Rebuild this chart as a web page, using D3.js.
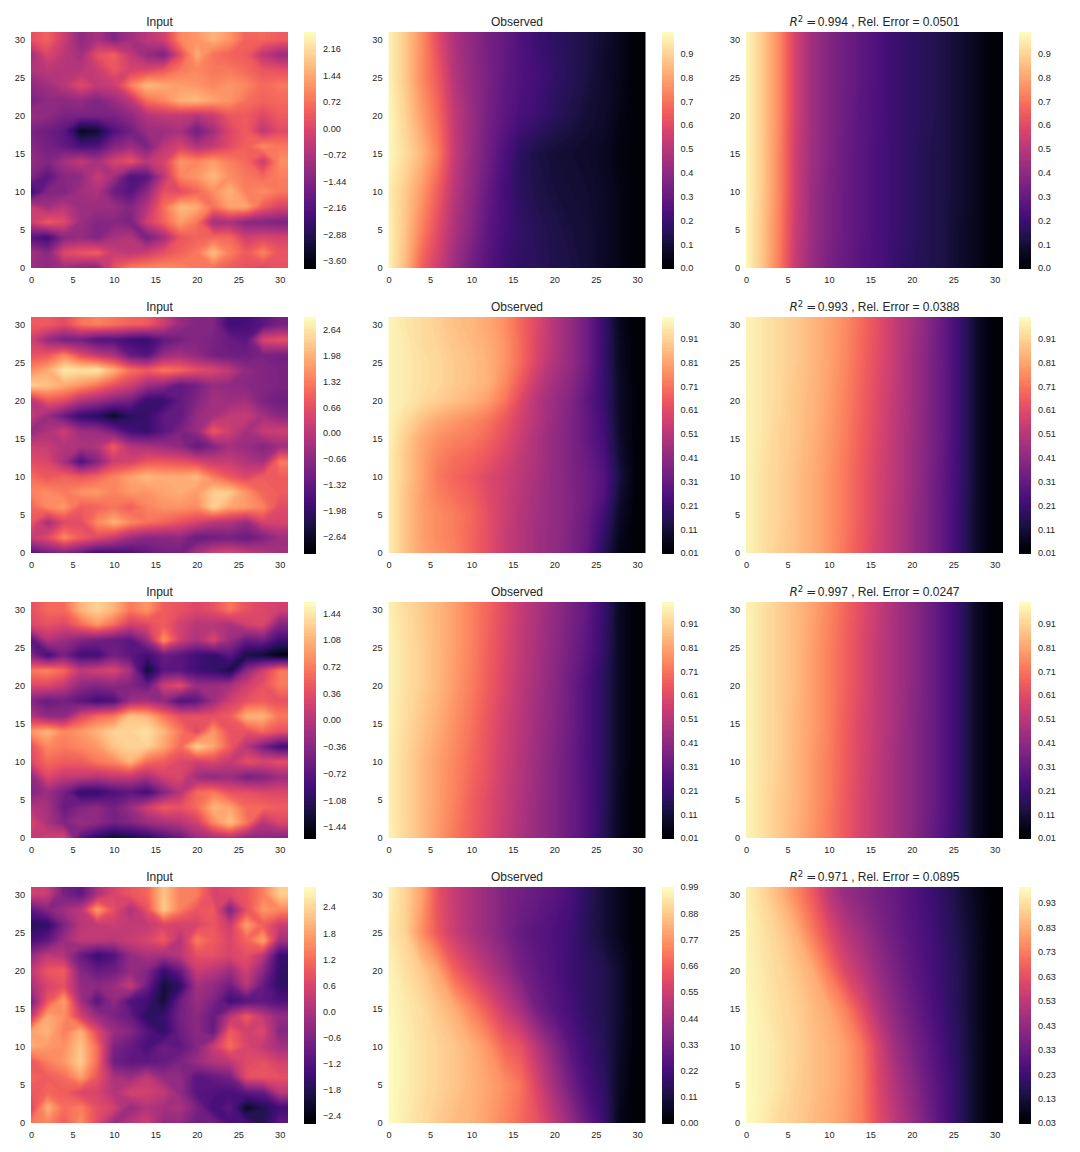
<!DOCTYPE html>
<html>
<head>
<meta charset="utf-8">
<script src="https://cdn.jsdelivr.net/npm/d3@7"></script>
<style>
  body { margin: 0; background: #fff; }
  text { font-family: "Liberation Sans", Arial, sans-serif; fill: #262626; }
  .tick text { font-size: 9.2px; }
  .title { font-size: 12px; }
</style>
</head>
<body>
<div id="chart"></div>
<script>
// values, rows run from y=30 down to y=0, columns x=0,2,...,30
const input1 = [
  [.2,.5,-.3,-1.2,-.8,-1.4,-.9,-.5,-.2,1,1.2,1.6,1.2,.5,.6,.4],
  [-.9,0,-.5,-.9,.2,.5,-.4,-1.1,-1.5,.1,1.5,.7,.5,.4,-.5,-1],
  [-.7,-.5,-.6,-.6,-.3,.3,-.1,0,.3,.8,1,.8,.8,.6,.3,.2],
  [-1.2,-.9,-.5,.1,-.4,-.3,.9,1.7,1.5,1.3,1.2,1,1.2,1,.6,.8],
  [-1.5,-1.2,-1.2,-1.1,-1.4,-1,-.5,.7,1,1.6,1.7,1.4,1.2,.7,.5,.6],
  [-1,-1.2,-1.5,-1.5,-1.5,-1.5,-1.2,-.6,-.4,-.4,-.6,-.3,.3,.4,0,.4],
  [-1.5,-1.7,-2,-3.4,-3.2,-2.2,-1.7,-1,-1,-.8,-1.7,-.9,0,.4,-.5,.1],
  [-1.3,-1.6,-1.9,-2.3,-2.2,-1.4,-1,-1.5,-.5,-.1,-.7,-.4,.1,.5,1.1,.8],
  [-1.1,-1.4,-.8,-.4,-.8,-.1,.3,-.5,-.1,1.2,1,1.3,.9,.6,-.3,1.1],
  [-1.4,-2,-1.3,-1.2,-.3,-.9,-2.2,-2,-.5,1,1.2,1.7,1.1,.8,.6,.9],
  [-2.5,-1.4,-1.4,-.9,-.7,-1.7,-2.1,-1.2,.2,.1,.5,1.1,1.6,.9,1.1,.8],
  [-.3,-.9,-.5,-1,-1,-1,-1.4,-.6,.7,1.7,1.5,.7,1.4,1.4,.4,-.1],
  [-.2,.4,.1,-1,-1.4,-1.3,-1.5,-.2,.5,1.3,.8,-.9,-.8,-1.3,-1.4,-1.5],
  [-2.1,-2.4,-1.3,-1.1,-1.4,-.8,-.6,-1.6,-.9,.3,.5,.6,.6,-.2,0,-.1],
  [-.8,-1.3,.1,.3,.5,-.3,-.5,-.2,.2,.5,.8,1.8,.9,.4,1,.3],
  [-1,-1.2,-.9,-1.2,-1.3,.3,.9,1,1.1,1,.8,.7,.4,.2,0,.2]
];
const input2 = [
  [.9,.9,.6,1.2,1.4,1.2,1,.9,.3,-.5,-.8,-.8,-1.8,-1.7,-1.4,-1],
  [.3,-.5,-1,-1,-1.5,-1.5,-1.8,-1.9,-1.3,-1,-.8,-.9,-1.2,-1.4,.5,.7],
  [.7,.8,1.4,.6,.1,-.2,-1.2,-1.5,-.5,-.3,-.6,-1,-1.1,-1.1,-.9,-1],
  [1.5,1.9,2.7,2.6,2.7,2,1.2,.9,1.3,1.1,.7,.5,.1,-.6,-.8,-.9],
  [2.4,2.2,1.9,1.6,1.2,.7,.3,-.4,-.7,-1.3,-1,-.5,-.6,-.7,-.8,-.9],
  [0,.8,.6,-.1,-.4,-.8,-1,-1.9,-1.9,-1.3,-.8,-.3,-.4,-.3,-.9,-1.1],
  [.2,-.5,-1.2,-1.9,-2.1,-2.6,-2.1,-1.9,-1.3,-1.3,-.5,-.3,.1,.2,-.3,-.7],
  [-.5,-.2,.3,-.4,-.5,-1,-1.7,-1.9,-1.4,-.9,-.5,.9,.3,-.3,.2,.3],
  [.3,.2,-.1,-.2,-.1,.9,-.1,-.2,-.4,-.6,-1.3,-.8,-.3,-.5,-.8,-.4],
  [.6,.5,-.3,-1.6,-.8,.3,.4,.8,.8,.7,.5,.2,.2,-.1,-.3,1.3],
  [1.1,.8,1,.8,1,1.4,1.8,2.1,1.9,1.9,2.1,1.3,.8,.5,.9,.9],
  [1.4,1.5,1.3,1.6,1.7,1.4,1.7,1.6,1.8,1.9,1.7,2.3,2.3,1.6,1,.9],
  [1,1.5,1.7,.9,1,1.2,.9,1.4,1.6,1.6,1.5,2.4,1.8,1.7,1.4,.6],
  [.8,-.3,.5,.6,1.5,2,1.5,1.2,1,.7,.4,0,-.1,-.5,.4,.4],
  [.2,.6,1.5,.9,.6,.2,-.4,-.7,-.7,-.6,-1.2,-1.1,-1,-1.2,-.9,-.4],
  [-1.5,-1,-.8,-1.2,-1.8,-1.7,-1.6,-1.3,-1,-1,-.2,.4,.5,.2,0,-.3]
];
const input3 = [
  [.4,.6,.6,1.1,1.3,1.1,.7,.9,.5,.4,.3,.4,.7,.4,.3,.2],
  [.3,.4,.3,.6,.9,.6,.2,.3,.5,.2,0,0,-.1,.2,.3,-.4],
  [-.7,0,-.2,-.4,-.5,-.6,-.7,-.2,.9,.2,-.1,.3,-.2,-.6,-.5,-.9],
  [-.4,-.9,-.5,-.9,-.9,-.5,-.7,-.9,-.6,-.7,-.9,-1,-.7,-1.2,-1.3,-1.5],
  [.7,.8,.6,.1,.2,.3,-.1,-1.3,-.7,-.7,-.9,-1,-1.2,-.3,.2,.7],
  [.3,.3,.1,-.3,-.4,-.3,-.4,-.6,.2,.4,-.2,-.2,-.1,.2,.4,.7],
  [-.4,-.6,-.5,-.7,-.9,-.8,-.2,-.1,-.3,-.8,-.7,-.2,.2,.4,.5,.4],
  [0,-.3,-.3,.3,.6,.7,1.2,1.1,.7,.4,.4,.4,.5,1.1,1.1,.7],
  [.9,1.1,.8,.9,1.1,1.3,1.3,1.4,1.1,.7,.3,.9,.4,.4,.6,.4],
  [.4,.8,.7,.8,.9,1.2,1.3,1.3,1,.6,1.3,1,.5,0,-.5,-.9],
  [.3,.6,.5,.5,.7,.8,1.1,.6,.5,.3,.2,.3,.1,.4,.3,.4],
  [-.3,.3,.1,.1,0,.1,.1,-.1,.2,.3,-.2,-.3,-.2,-.5,-.4,-.2],
  [-.4,-.2,-.5,-1,-1,-.8,-.7,-.9,-.4,0,.6,.7,.4,.4,.3,.3],
  [0,-.1,-.6,-.4,-.3,-.5,-.2,.2,.5,.4,.6,1.1,1,.6,.6,.5],
  [.3,-.1,-.4,-.2,-.3,-.5,-.4,-.2,-.1,0,.2,.8,1.2,.7,0,.3],
  [.1,.2,.3,-.7,-1.1,-1.3,-1.2,-1.1,-.8,-.6,-.2,-.1,0,-.3,-.3,-.4]
];
const input4 = [
  [.5,.4,-.7,-1,0,.6,.9,1.1,2.2,1.4,1.4,.6,.7,.9,1.4,2.3],
  [-1,-.5,-.1,.2,1.8,.8,0,.8,2.3,1.4,.9,1,-.6,.8,1.7,1.5],
  [-1.7,-1.6,-.6,.2,.3,.4,.3,.3,.6,.5,.6,.9,.4,1.8,1,.4],
  [-1.3,-1,-.2,.3,.3,.2,.4,.6,1,.1,1.4,1,.6,1.1,1.9,-.1],
  [-.3,.3,.1,-.9,-1.5,-1.2,-.3,0,-.1,.2,.8,.8,.6,.8,.2,-1.5],
  [.3,.9,1,-.5,-.9,-.8,-.3,-.5,-1.5,-.9,.4,.2,-.2,.5,-.4,-1.6],
  [-.1,.6,.8,-.3,-.4,-.2,.4,-.8,-2,-1.6,-.1,-.3,-.8,.2,-.9,-1.6],
  [-.6,.9,1.8,-.1,-1.1,-.3,-1.2,-1.4,-2,-.8,-.2,-.6,-1.4,-1.1,-1,-1.2],
  [.3,1.9,1.6,.5,-.2,-.6,-.9,-1.7,-1.5,-.7,-.4,-.9,.2,1,.3,-.3],
  [1.8,2,1.4,2,.7,-.2,-.5,-1.1,-1.6,-.8,-.4,-.9,1,.5,.7,-.5],
  [1.9,1.7,1.6,2.2,1.2,-.6,-.9,-1.3,-.8,-1,-.5,.4,1.2,.6,.3,-.1],
  [.9,1.4,1.7,2.3,1.2,-.8,-1,-1,-.9,-.6,-.2,.1,.2,.7,.8,.5],
  [1.1,1,1.2,1.8,.9,0,-.2,.3,-.3,-.3,-1.1,-.9,-.7,.8,.9,.8],
  [.9,1.1,1,.6,.6,.1,.6,.5,.3,-.3,-1.1,-1.2,-1.3,-1,-.9,.2],
  [.6,2,1.2,1.4,.8,.5,-.3,.1,-.1,0,-.6,-1.4,-1,-2.2,-1.8,-1.4],
  [1.3,1.5,1,1.6,.7,-.2,.2,.5,-.3,-.3,-.8,-.7,-1.3,-1.3,-1.8,-1]
];

// the smooth fields are read every 5 units in y (observed2 every 2.5)
const observed1 = [
  [.97,.88,.76,.6,.47,.4,.34,.3,.24,.2,.17,.15,.12,.09,.05,.01],
  [.97,.88,.75,.64,.49,.41,.35,.29,.25,.22,.18,.15,.12,.08,.05,.01],
  [.98,.9,.79,.68,.52,.43,.34,.28,.23,.2,.16,.13,.1,.08,.04,.01],
  [.98,.92,.84,.72,.53,.42,.33,.24,.16,.12,.1,.09,.08,.06,.03,.01],
  [.96,.88,.78,.65,.5,.4,.3,.22,.16,.13,.11,.1,.09,.07,.04,.01],
  [.97,.87,.73,.6,.47,.38,.28,.22,.18,.15,.13,.11,.1,.07,.04,.01],
  [.97,.85,.66,.55,.43,.33,.26,.2,.17,.16,.13,.12,.1,.07,.04,.01]
];
const predicted1 = [
  [.98,.88,.75,.56,.44,.37,.32,.28,.24,.2,.17,.15,.12,.09,.05,.01],
  [.98,.88,.75,.56,.44,.37,.32,.28,.24,.2,.17,.15,.12,.09,.05,.01],
  [.98,.88,.75,.56,.44,.37,.32,.27,.24,.2,.17,.15,.12,.09,.05,.01],
  [.98,.88,.74,.55,.44,.37,.31,.27,.23,.2,.17,.14,.12,.09,.05,.01],
  [.98,.88,.74,.55,.43,.36,.31,.27,.23,.2,.17,.14,.12,.09,.05,.01],
  [.98,.87,.73,.54,.43,.36,.31,.27,.23,.2,.17,.14,.12,.08,.05,.01],
  [.98,.87,.72,.53,.42,.35,.3,.26,.23,.19,.16,.14,.12,.08,.05,.01]
];
const observed2 = [
  [.98,.95,.93,.9,.87,.85,.82,.77,.68,.6,.5,.42,.33,.2,.06,.02],
  [.98,.96,.93,.91,.88,.86,.83,.78,.69,.59,.5,.42,.33,.2,.07,.02],
  [.98,.96,.94,.92,.89,.87,.84,.78,.69,.58,.49,.42,.33,.2,.07,.02],
  [.98,.96,.94,.92,.89,.87,.84,.76,.65,.54,.46,.4,.31,.2,.08,.02],
  [.98,.96,.93,.9,.87,.84,.8,.72,.6,.5,.44,.38,.29,.2,.08,.02],
  [.98,.93,.87,.82,.79,.76,.72,.65,.57,.5,.43,.37,.3,.22,.08,.02],
  [.98,.9,.82,.77,.74,.72,.68,.62,.55,.48,.42,.37,.3,.23,.09,.02],
  [.97,.89,.81,.74,.7,.68,.64,.59,.53,.48,.42,.37,.32,.25,.1,.02],
  [.97,.89,.81,.72,.68,.65,.6,.56,.52,.47,.42,.37,.33,.27,.12,.02],
  [.97,.88,.8,.74,.7,.67,.61,.56,.51,.46,.42,.38,.33,.26,.1,.02],
  [.97,.88,.8,.76,.73,.69,.62,.56,.5,.46,.42,.38,.32,.22,.08,.02],
  [.97,.88,.8,.76,.73,.68,.62,.55,.5,.45,.42,.37,.31,.19,.06,.02],
  [.97,.88,.81,.77,.74,.68,.62,.55,.5,.45,.42,.37,.3,.16,.05,.02]
];
const predicted2 = [
  [.98,.95,.92,.89,.85,.81,.76,.69,.62,.54,.47,.39,.3,.2,.08,.02],
  [.98,.95,.92,.89,.85,.81,.75,.68,.61,.54,.46,.38,.3,.2,.08,.02],
  [.98,.95,.92,.88,.85,.8,.74,.67,.6,.53,.46,.38,.3,.2,.08,.02],
  [.98,.95,.91,.88,.84,.79,.73,.66,.59,.52,.45,.38,.3,.2,.08,.02],
  [.98,.94,.91,.87,.83,.78,.72,.65,.58,.52,.45,.37,.29,.2,.08,.02],
  [.98,.94,.91,.87,.83,.78,.72,.65,.58,.51,.44,.37,.29,.19,.08,.02],
  [.98,.94,.9,.87,.83,.78,.71,.64,.57,.51,.44,.37,.29,.19,.08,.02]
];
const observed3 = [
  [.97,.93,.89,.85,.8,.74,.68,.61,.54,.48,.42,.36,.3,.2,.07,.02],
  [.98,.94,.9,.85,.8,.74,.67,.6,.53,.47,.41,.35,.28,.19,.07,.02],
  [.98,.94,.9,.85,.79,.73,.66,.59,.52,.46,.4,.33,.25,.17,.07,.02],
  [.98,.93,.88,.83,.77,.71,.64,.57,.51,.45,.39,.33,.25,.17,.07,.02],
  [.97,.92,.86,.8,.75,.69,.63,.56,.5,.44,.38,.32,.25,.17,.07,.02],
  [.97,.92,.86,.8,.74,.67,.61,.55,.49,.43,.38,.32,.26,.17,.06,.02],
  [.98,.92,.86,.79,.72,.66,.6,.54,.48,.43,.38,.32,.26,.16,.06,.02]
];
const predicted3 = [
  [.98,.94,.9,.86,.81,.75,.68,.61,.54,.47,.41,.34,.27,.18,.07,.02],
  [.98,.94,.9,.86,.8,.74,.67,.6,.53,.47,.41,.34,.27,.18,.07,.02],
  [.98,.94,.9,.86,.8,.74,.67,.6,.53,.47,.41,.34,.27,.18,.07,.02],
  [.98,.94,.9,.85,.8,.74,.66,.59,.53,.47,.4,.34,.27,.18,.07,.02],
  [.98,.94,.9,.85,.79,.73,.66,.59,.52,.46,.4,.34,.27,.18,.07,.02],
  [.98,.94,.89,.85,.79,.73,.65,.58,.52,.46,.4,.34,.27,.18,.07,.02],
  [.98,.94,.89,.84,.78,.72,.65,.58,.52,.46,.4,.33,.26,.18,.07,.02]
];
const observed4 = [
  [.97,.9,.8,.62,.53,.47,.42,.36,.33,.3,.27,.23,.16,.1,.05,.01],
  [.95,.9,.76,.63,.54,.47,.42,.36,.3,.27,.24,.21,.15,.1,.05,.01],
  [.97,.93,.88,.8,.66,.58,.5,.43,.34,.29,.25,.2,.17,.14,.08,.01],
  [.98,.95,.92,.87,.82,.73,.64,.54,.45,.33,.27,.22,.17,.14,.08,.01],
  [.99,.96,.93,.9,.87,.83,.77,.67,.62,.5,.38,.27,.2,.15,.07,.01],
  [.99,.96,.93,.9,.87,.84,.8,.76,.7,.57,.45,.33,.23,.17,.06,.01],
  [.99,.95,.92,.88,.85,.83,.79,.74,.68,.62,.52,.42,.3,.2,.04,.01]
];
const predicted4 = [
  [.97,.92,.85,.76,.66,.53,.44,.4,.36,.32,.28,.24,.19,.13,.08,.03],
  [.98,.94,.9,.84,.73,.62,.52,.46,.39,.34,.29,.25,.2,.15,.09,.03],
  [.98,.95,.92,.88,.83,.72,.6,.52,.44,.37,.31,.26,.21,.16,.09,.03],
  [.99,.96,.93,.9,.86,.82,.74,.62,.5,.41,.34,.28,.22,.16,.09,.03],
  [.99,.97,.94,.91,.87,.84,.8,.72,.58,.46,.38,.31,.24,.17,.09,.03],
  [.99,.97,.94,.9,.87,.84,.8,.73,.6,.5,.42,.33,.26,.18,.09,.03],
  [.99,.96,.92,.89,.86,.83,.79,.73,.62,.53,.45,.36,.27,.18,.09,.03]
];

const axisTicks = [0, 5, 10, 15, 20, 25, 30];
const inputRanges = [[-3.8, 2.62], [-3.06, 2.96], [-1.59, 1.59], [-2.57, 2.86]];
const inputTicks = [
  [-3.6, -2.88, -2.16, -1.44, -.72, 0, .72, 1.44, 2.16],
  [-2.64, -1.98, -1.32, -.66, 0, .66, 1.32, 1.98, 2.64],
  [-1.44, -1.08, -.72, -.36, 0, .36, .72, 1.08, 1.44],
  [-2.4, -1.8, -1.2, -.6, 0, .6, 1.2, 1.8, 2.4]
];
const tenthTicks = [0, .1, .2, .3, .4, .5, .6, .7, .8, .9];
const offsetTicks = [.01, .11, .21, .31, .41, .51, .61, .71, .81, .91];
const observedRanges = [[0, .99], [.01, 1], [.01, 1], [0, .99]];
const observedTicks = [tenthTicks, offsetTicks, offsetTicks, [0, .11, .22, .33, .44, .55, .66, .77, .88, .99]];
const predictedRanges = [[0, .99], [.01, 1], [.01, 1], [.03, .995]];
const predictedTicks = [tenthTicks, offsetTicks, offsetTicks, [.03, .13, .23, .33, .43, .53, .63, .73, .83, .93]];
const r2Scores = ['0.994', '0.993', '0.997', '0.971'];
const relErrors = ['0.0501', '0.0388', '0.0247', '0.0895'];
const tickFormats = ['.2f', '.2f', '.2f', '.1f'];
const smoothFormats = ['.1f', '.2f', '.2f', '.2f'];

const WIDTH = 1080;
const HEIGHT = 1152;
const COL_X = [31, 388.5, 746];
const ROW_Y = [32, 317, 602, 887];
const PANEL_W = 257;
const PANEL_H = 236;
const BAR_OFFSET = 273;
const BAR_W = 12;
const LEVELS = 100;
const X_STEP = 2;
const INPUT_BLUR = 1.3;
const SMOOTH_BLUR = 1;

const svg = d3.select('#chart').append('svg')
  .attr('width', WIDTH)
  .attr('height', HEIGHT);

const defs = svg.append('defs');
[['blur-input', INPUT_BLUR], ['blur-smooth', SMOOTH_BLUR]].forEach(([id, sd]) => {
  defs.append('filter').attr('id', id)
    .attr('color-interpolation-filters', 'sRGB')
    .append('feGaussianBlur').attr('stdDeviation', sd);
});

function drawField(g, rows, range, x, y, clipId, blurId) {
  // repeat the top row and right column so the contour corners fall outside the clip
  const padded = [rows[0], ...rows].map(r => [...r, r[r.length - 1]]);
  const nx = padded[0].length;
  const ny = padded.length;
  const yStep = 30 / (rows.length - 1);
  const step = (range[1] - range[0]) / LEVELS;
  const thresholds = d3.range(LEVELS).map(i => range[0] + i * step);
  const color = i => d3.interpolateMagma((i + .5) / LEVELS);

  const contours = d3.contours().size([nx, ny]).thresholds(thresholds)(padded.flat());
  // grid nodes sit at half cells in d3.contours, turn them back into data units
  const toPlot = d3.geoTransform({
    point(gx, gy) {
      this.stream.point(x((gx - .5) * X_STEP), y(30 - (gy - 1.5) * yStep));
    }
  });
  const path = d3.geoPath(toPlot);

  g.append('clipPath').attr('id', clipId)
    .append('rect')
    .attr('width', PANEL_W)
    .attr('height', PANEL_H);

  const field = g.append('g').attr('clip-path', `url(#${clipId})`)
    .append('g').attr('filter', `url(#${blurId})`);
  field.selectAll('path')
    .data(contours)
    .join('path')
    .attr('d', path)
    .attr('fill', (d, i) => color(i));
}

function drawAxes(g, x, y) {
  g.append('g')
    .attr('transform', `translate(0,${PANEL_H})`)
    .call(d3.axisBottom(x).tickValues(axisTicks).tickSize(0).tickPadding(8))
    .call(a => a.select('.domain').remove());
  g.append('g')
    .call(d3.axisLeft(y).tickValues(axisTicks).tickSize(0).tickPadding(6))
    .call(a => a.select('.domain').remove());
}

function drawColorbar(g, range, ticks, format) {
  const bar = g.append('g').attr('transform', `translate(${BAR_OFFSET},0)`);
  const scale = d3.scaleLinear().domain(range).range([PANEL_H, 0]);
  const step = (range[1] - range[0]) / LEVELS;
  bar.selectAll('rect')
    .data(d3.range(LEVELS))
    .join('rect')
    .attr('width', BAR_W)
    .attr('y', i => scale(range[0] + (i + 1) * step))
    .attr('height', PANEL_H / LEVELS + .5)
    .attr('shape-rendering', 'crispEdges')
    .attr('fill', i => d3.interpolateMagma((i + .5) / LEVELS));
  bar.append('g')
    .attr('transform', `translate(${BAR_W},0)`)
    .call(d3.axisRight(scale).tickValues(ticks).tickFormat(d3.format(format)).tickSize(0).tickPadding(7))
    .call(a => a.select('.domain').remove());
}

const panels = [];
[input1, input2, input3, input4].forEach((rows, r) => panels.push({
  rows, r, c: 0, range: inputRanges[r], ticks: inputTicks[r], format: tickFormats[r], title: 'Input', blur: 'blur-input'
}));
[observed1, observed2, observed3, observed4].forEach((rows, r) => panels.push({
  rows, r, c: 1, range: observedRanges[r], ticks: observedTicks[r], format: smoothFormats[r], title: 'Observed', blur: 'blur-smooth'
}));
[predicted1, predicted2, predicted3, predicted4].forEach((rows, r) => panels.push({
  rows, r, c: 2, range: predictedRanges[r], ticks: predictedTicks[r], format: smoothFormats[r], blur: 'blur-smooth'
}));

panels.forEach((p, idx) => {
  const g = svg.append('g').attr('transform', `translate(${COL_X[p.c]},${ROW_Y[p.r]})`);
  const x = d3.scaleLinear().domain([0, 31]).range([0, PANEL_W]);
  const y = d3.scaleLinear().domain([0, 31]).range([PANEL_H, 0]);

  drawField(g, p.rows, p.range, x, y, `clip-${idx}`, p.blur);
  drawAxes(g, x, y);
  drawColorbar(g, p.range, p.ticks, p.format);

  const title = g.append('text')
    .attr('class', 'title')
    .attr('x', PANEL_W / 2)
    .attr('y', -6)
    .attr('text-anchor', 'middle');
  if (p.title) {
    title.text(p.title);
  } else {
    title.append('tspan').attr('font-family', 'DejaVu Sans').attr('font-style', 'italic').text('R');
    title.append('tspan').attr('font-family', 'DejaVu Sans').attr('font-size', 8.5).attr('dy', -4.5).text('2');
    title.append('tspan').attr('font-family', 'DejaVu Sans').attr('dy', 4.5).attr('dx', 3).text('=');
    title.append('tspan').attr('dx', 1.5).text(`${r2Scores[p.r]} , Rel. Error = ${relErrors[p.r]}`);
  }
});
</script>
</body>
</html>
